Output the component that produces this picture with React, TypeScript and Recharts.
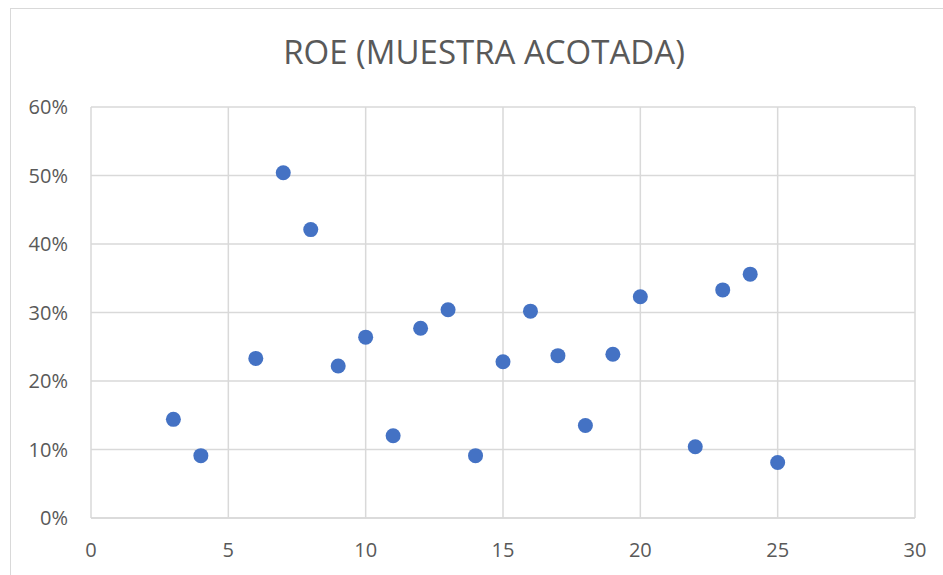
import React from "react";
import { ScatterChart, Scatter, XAxis, YAxis, CartesianGrid } from "recharts";

const title = "ROE (MUESTRA ACOTADA)";
const xValues = [3, 4, 6, 7, 8, 9, 10, 11, 12, 13, 14, 15, 16, 17, 18, 19, 20, 22, 23, 24, 25];
const roeValues = [0.144, 0.091, 0.233, 0.504, 0.421, 0.222, 0.264, 0.12, 0.277, 0.304, 0.091, 0.228, 0.302, 0.237, 0.135, 0.239, 0.323, 0.104, 0.333, 0.356, 0.081];
const xTicks = [0, 5, 10, 15, 20, 25, 30];
const yTicks = [0, 0.1, 0.2, 0.3, 0.4, 0.5, 0.6];

const data = xValues.map((x, i) => ({ x, y: roeValues[i] }));

const FONT = "'Open Sans', sans-serif";

export default function App() {
  return (
    <div style={{ position: "absolute", left: 0, top: 0, width: 943, height: 575, background: "#fff" }}>
      <div
        style={{
          position: "absolute",
          left: 10,
          top: 8,
          width: 940,
          height: 580,
          border: "1px solid #d9d9d9",
          boxSizing: "border-box",
        }}
      />
      <div
        style={{
          position: "absolute",
          left: 0,
          width: 968,
          top: 30,
          textAlign: "center",
          fontFamily: FONT,
          fontSize: 33,
          color: "#595959",
          lineHeight: "44px",
        }}
      >
        {title}
      </div>
      <div style={{ position: "absolute", left: 0, top: 0 }}>
        <ScatterChart width={943} height={575} margin={{ top: 107, right: 28, bottom: 0, left: 0 }}>
          <CartesianGrid stroke="#d9d9d9" strokeWidth={1.5} />
          <XAxis
            type="number"
            dataKey="x"
            domain={[0, 30]}
            ticks={xTicks}
            height={57}
            axisLine={{ stroke: "#d9d9d9", strokeWidth: 1.5 }}
            tickLine={false}
            tickMargin={19}
            tick={{ fill: "#595959", fontSize: 20, fontFamily: FONT }}
          />
          <YAxis
            type="number"
            dataKey="y"
            domain={[0, 0.6]}
            ticks={yTicks}
            width={91}
            axisLine={false}
            tickLine={false}
            tickMargin={17}
            tickFormatter={(v: number) => `${Math.round(v * 100)}%`}
            tick={{ fill: "#595959", fontSize: 20, fontFamily: FONT }}
          />
          <Scatter
            data={data}
            fill="#4472C4"
            isAnimationActive={false}
            shape={(p: any) => <circle cx={p.cx} cy={p.cy} r={7.5} fill="#4472C4" />}
          />
        </ScatterChart>
      </div>
    </div>
  );
}
